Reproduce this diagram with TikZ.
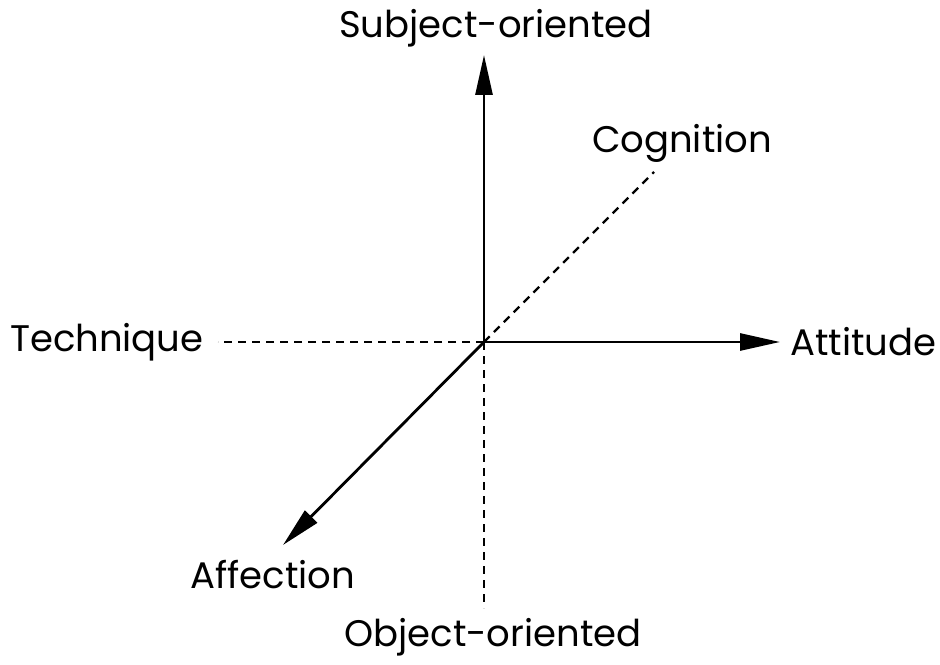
\documentclass[tikz,border=0pt]{standalone}
\usepackage{fontspec}
\setmainfont{Poppins}
\usetikzlibrary{arrows.meta,positioning}

\begin{document}
\begin{tikzpicture}[
  x=0.5pt, y=0.5pt,
  achse/.style={-{Triangle[length=20pt, width=8.5pt]}, line width=1.4pt},
  hilfslinie/.style={dashed, dash pattern=on 4pt off 3pt, line width=1.1pt},
  beschriftung/.style={font=\fontsize{18.5}{22}\selectfont, inner sep=0pt}
]
\useasboundingbox (-484,-322) rectangle (456,342);
\coordinate (O) at (0,0);
\coordinate (oben) at (0,287);
\coordinate (rechts) at (296,0);
\coordinate (unten) at (-201,-203);
\coordinate (links) at (-266,0);
\coordinate (fuss) at (0,-266);
\coordinate (schraeg) at (170,170);
% gestrichelte Achsen
\draw[hilfslinie] (O) -- (links);
\draw[hilfslinie] (O) -- (fuss);
\draw[hilfslinie] (O) -- (schraeg);
% durchgezogene Achsen
\draw[achse] (O) -- (oben);
\draw[achse] (O) -- (rechts);
\draw[achse] (O) -- (unten);
% Beschriftungen
\node[beschriftung] (subj) at (12,314) {Subject-oriented};
\node[beschriftung] (kogn) at (198,199) {Cognition};
\node[beschriftung, left=7pt of links] (tech) {Technique};
\node[beschriftung, right=5pt of rechts] (att) {Attitude};
\node[beschriftung] (aff) at (-211,-233) {Affection};
\node[beschriftung] (obj) at (9,-295) {Object-oriented};
\end{tikzpicture}
\end{document}
